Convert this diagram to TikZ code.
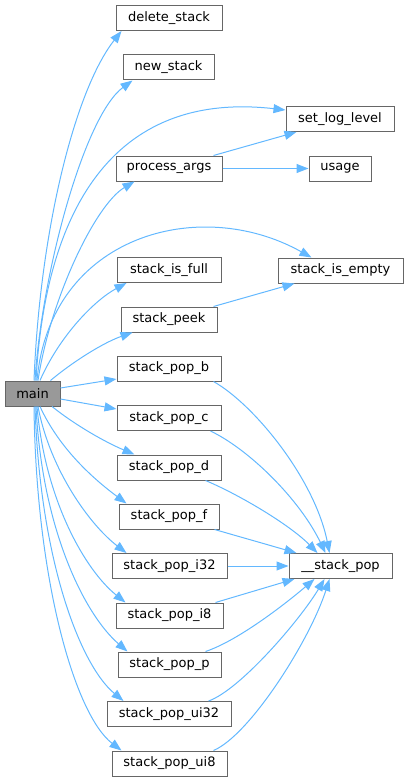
\documentclass[tikz,border=0pt]{standalone}
\usepackage{fontspec}
\setmainfont{DejaVu Sans}
\usetikzlibrary{arrows.meta}
\definecolor{edgeblue}{HTML}{63B8FF}
\definecolor{boxline}{HTML}{666666}
\definecolor{mainfill}{HTML}{999999}
\tikzset{
  fn/.style={draw=boxline, line width=1pt, fill=white, minimum height=25pt, inner sep=0pt, font=\fontsize{13}{15}\selectfont},
  mainbox/.style={fn, fill=mainfill},
  call/.style={draw=edgeblue, line width=1pt, -{Triangle[length=12pt,width=9pt]}}
}
\begin{document}
\begin{tikzpicture}[x=1pt,y=-1pt]
\useasboundingbox (0,0) rectangle (408,781);
% nodes
\node[mainbox, minimum width=55pt] (main) at (32.5,393.5) {main};
\node[fn, minimum width=106pt] (del) at (169,18) {delete\_stack};
\node[fn, minimum width=91pt] (new) at (168.5,67.5) {new\_stack};
\node[fn, minimum width=106pt] (proc) at (169,168.5) {process\_args};
\node[fn, minimum width=108pt] (log) at (340,119) {set\_log\_level};
\node[fn, minimum width=62pt] (usage) at (340,168.5) {usage};
\node[fn, minimum width=125pt] (empty) at (340.5,270.5) {stack\_is\_empty};
\node[fn, minimum width=104pt] (full) at (169,270) {stack\_is\_full};
\node[fn, minimum width=96pt] (peek) at (169,319.5) {stack\_peek};
\node[fn, minimum width=104pt] (popb) at (169,368.5) {stack\_pop\_b};
\node[fn, minimum width=104pt] (popc) at (169,418) {stack\_pop\_c};
\node[fn, minimum width=104pt] (popd) at (169,467.5) {stack\_pop\_d};
\node[fn, minimum width=100pt] (popf) at (169,516.5) {stack\_pop\_f};
\node[fn, minimum width=115pt] (popi32) at (169.5,566) {stack\_pop\_i32};
\node[fn, minimum width=103pt] (pop) at (340.5,566) {\_\_stack\_pop};
\node[fn, minimum width=107pt] (popi8) at (169.5,615.5) {stack\_pop\_i8};
\node[fn, minimum width=103pt] (popp) at (169.5,664.5) {stack\_pop\_p};
\node[fn, minimum width=124pt] (popui32) at (169,714) {stack\_pop\_ui32};
\node[fn, minimum width=115pt] (popui8) at (169.5,763.5) {stack\_pop\_ui8};
% edges from main
\draw[call] ([xshift=1.5pt]main.north) .. controls (40,230) and (75,90) .. ([xshift=6pt]del.south west);
\draw[call] ([xshift=2.5pt]main.north) .. controls (42,270) and (85,115) .. ([xshift=10pt]new.south west);
\draw[call] ([xshift=3.5pt]main.north) .. controls (45,215) and (110,90) .. ([yshift=9pt]log.west);
\draw[call] ([xshift=5.5pt]main.north) .. controls (50,300) and (95,205) .. ([xshift=19pt]proc.south west);
\draw[call] ([xshift=4.5pt]main.north) .. controls (50,235) and (200,195) .. ([xshift=34pt]empty.north west);
\draw[call] ([xshift=7.5pt]main.north) .. controls (60,335) and (95,300) .. ([xshift=10pt]full.south west);
\draw[call] ([xshift=-10pt]main.north east) .. controls (75,360) and (105,342) .. ([xshift=12pt]peek.south west);
\draw[call] ([yshift=5.5pt]main.east) -- ([yshift=-10.5pt]popb.west);
\draw[call] ([yshift=-5.5pt]main.east) -- ([yshift=9pt]popc.west);
\draw[call] ([xshift=19.5pt]main.south) .. controls (75,425) and (105,442) .. ([xshift=18pt]popd.north west);
\draw[call] ([xshift=7.5pt]main.south) .. controls (60,450) and (95,480) .. ([xshift=8pt]popf.north west);
\draw[call] ([xshift=5.5pt]main.south) .. controls (50,470) and (90,525) .. ([xshift=15pt]popi32.north west);
\draw[call] ([xshift=4.5pt]main.south) .. controls (45,500) and (85,570) .. ([xshift=10pt]popi8.north west);
\draw[call] ([xshift=3.5pt]main.south) .. controls (42,530) and (85,615) .. ([xshift=10pt]popp.north west);
\draw[call] ([xshift=2.5pt]main.south) .. controls (40,560) and (80,665) .. ([xshift=17pt]popui32.north west);
\draw[call] ([xshift=1.5pt]main.south) .. controls (36,580) and (75,715) .. ([xshift=10pt]popui8.north west);
% other edges
\draw[call] ([xshift=-9pt]proc.north east) -- ([xshift=11pt]log.south west);
\draw[call] (proc.east) -- (usage.west);
\draw[call] ([xshift=-4pt]peek.north east) -- ([xshift=17pt]empty.south west);
% edges to __stack_pop
\draw[call] ([xshift=-8pt]popb.south east) .. controls (255,405) and (315,480) .. ([xshift=41pt]pop.north west);
\draw[call] ([xshift=-11pt]popc.south east) .. controls (250,450) and (300,500) .. ([xshift=37pt]pop.north west);
\draw[call] ([xshift=-16pt]popd.south east) .. controls (240,495) and (290,525) .. ([xshift=29pt]pop.north west);
\draw[call] ([xshift=-5pt]popf.south east) -- ([xshift=8pt]pop.north west);
\draw[call] (popi32.east) -- (pop.west);
\draw[call] ([xshift=-8pt]popi8.north east) -- ([xshift=6pt]pop.south west);
\draw[call] ([xshift=-16pt]popp.north east) .. controls (240,640) and (290,600) .. ([xshift=26pt]pop.south west);
\draw[call] ([xshift=-23pt]popui32.north east) .. controls (240,690) and (300,620) .. ([xshift=36pt]pop.south west);
\draw[call] ([xshift=-14pt]popui8.north east) .. controls (250,735) and (310,640) .. ([xshift=41pt]pop.south west);
\end{tikzpicture}
\end{document}
